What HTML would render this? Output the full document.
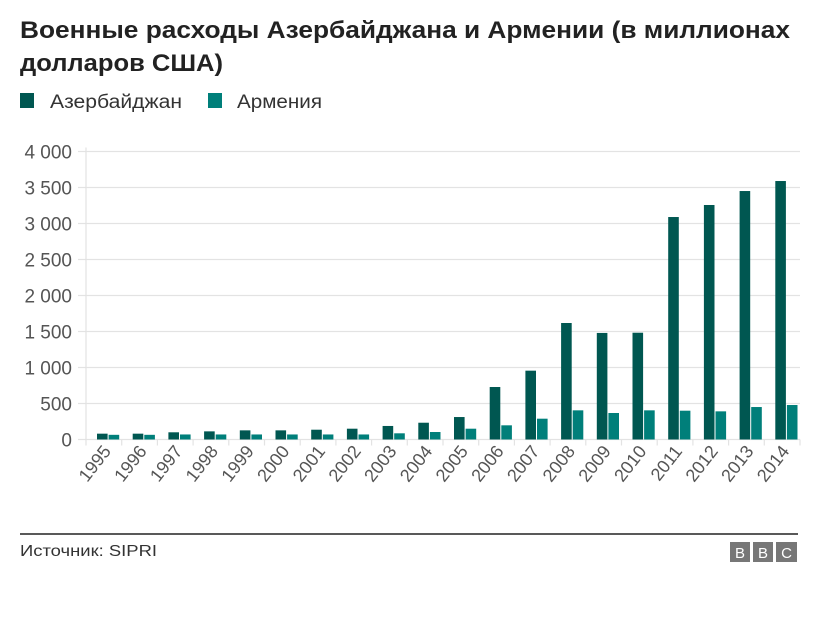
<!DOCTYPE html>
<html><head><meta charset="utf-8"><style>
body{margin:0;background:#fff;width:820px;height:627px;overflow:hidden;font-family:"Liberation Sans",sans-serif}
</style></head><body>
<svg id="c" width="820" height="627" xmlns="http://www.w3.org/2000/svg" font-family="Liberation Sans, sans-serif">
<text x="20" y="38" font-size="24" font-weight="bold" fill="#222" textLength="770" lengthAdjust="spacingAndGlyphs">Военные расходы Азербайджана и Армении (в миллионах</text>
<text x="20" y="71" font-size="24" font-weight="bold" fill="#222" textLength="203" lengthAdjust="spacingAndGlyphs">долларов США)</text>
<rect x="20" y="93" width="14" height="15" fill="#005751"/>
<text x="50" y="108" font-size="19" fill="#333" textLength="132" lengthAdjust="spacingAndGlyphs">Азербайджан</text>
<rect x="208" y="93" width="14" height="15" fill="#007f7a"/>
<text x="237" y="108" font-size="19" fill="#333" textLength="85" lengthAdjust="spacingAndGlyphs">Армения</text>
<g id="grid"></g><g id="bars"></g><g id="xl"></g>
<line x1="20" y1="534" x2="798" y2="534" stroke="#222" stroke-width="1.5"/>
<text x="20" y="556" font-size="16" fill="#333" textLength="137" lengthAdjust="spacingAndGlyphs">Источник: SIPRI</text>
<g>
<rect x="730" y="542" width="20" height="20" fill="#777"/><text x="740" y="558" font-size="15" fill="#fff" text-anchor="middle">B</text>
<rect x="753" y="542" width="20" height="20" fill="#777"/><text x="763" y="558" font-size="15" fill="#fff" text-anchor="middle">B</text>
<rect x="776" y="542" width="21" height="20" fill="#777"/><text x="786.5" y="558" font-size="15" fill="#fff" text-anchor="middle">C</text>
</g>
</svg>
<script>
const years=["1995","1996","1997","1998","1999","2000","2001","2002","2003","2004","2005","2006","2007","2008","2009","2010","2011","2012","2013","2014"];
const azerbaijan=[81,81,100,113,127,127,136,150,188,233,312,729,956,1618,1480,1483,3090,3257,3451,3590];
const armenia=[65,65,70,70,70,70,70,70,86,104,150,197,289,405,368,405,400,391,451,479];
const yTicks=[0,500,1000,1500,2000,2500,3000,3500,4000];
const yLabels=["0","500","1 000","1 500","2 000","2 500","3 000","3 500","4 000"];
const NS="http://www.w3.org/2000/svg";
const x0=86,x1=800,y0=439.5,yTop=151.5,yMax=4000;
const band=(x1-x0)/years.length;
function Y(v){return y0-(v/yMax)*(y0-yTop);}
function X(i){return x0+i*band;}
function mk(t,a,p){const e=document.createElementNS(NS,t);for(const k in a)e.setAttribute(k,a[k]);p.appendChild(e);return e;}
const g=document.getElementById('grid'),b=document.getElementById('bars'),xl=document.getElementById('xl');
yTicks.forEach((v,i)=>{
 const l=mk('line',{x1:x0-8,x2:x1,y1:Y(v),y2:Y(v),stroke:'#e3e3e3','stroke-width':1.2},g);
 
 
 const t=mk('text',{x:72,y:Y(v)+7,'font-size':19,fill:'#555','text-anchor':'end'},g);
 t.textContent=yLabels[i];
 
 
});
mk('line',{x1:x0,x2:x0,y1:yTop-4,y2:y0+6,stroke:'#e3e3e3','stroke-width':1.2},g);
years.forEach((yr,i)=>{
 const bx=X(i)+11,w=10.6;
 const r1=mk('rect',{x:bx,y:Y(azerbaijan[i]),width:w,height:y0-Y(azerbaijan[i]),fill:'#005751'},b);
 
 
 const r2=mk('rect',{x:bx+w+1,y:Y(armenia[i]),width:w,height:y0-Y(armenia[i]),fill:'#007f7a'},b);
 
 
 mk('line',{x1:X(i+1),x2:X(i+1),y1:y0,y2:y0+6,stroke:'#e3e3e3','stroke-width':1.2},g);
 const cx=X(i)+band/2+8,cy=y0+12;
 const t=mk('text',{x:cx,y:cy,'font-size':18,fill:'#555','text-anchor':'end',transform:`rotate(-52 ${cx} ${cy})`},xl);
 t.textContent=yr;
 
 
});
</script>
</body></html>
